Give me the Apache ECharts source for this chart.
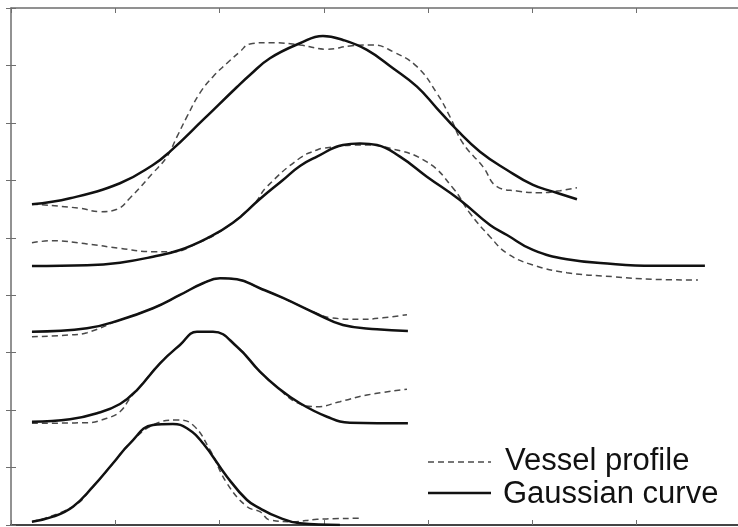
<!DOCTYPE html>
<html>
<head>
<meta charset="utf-8">
<script src="https://cdn.jsdelivr.net/npm/echarts@6/dist/echarts.min.js"></script>
<style>html,body{margin:0;padding:0;background:#fff}#c{width:738px;height:527px}</style>
</head>
<body>
<div id="c"></div>
<script>
// x ticks 0..70 step 10, y ticks 0..90 step 10 (tick labels hidden in the original)
const xTicks = [0, 10, 20, 30, 40, 50, 60, 70];
const yTicks = [0, 10, 20, 30, 40, 50, 60, 70, 80, 90];
const seriesNames = ['Vessel profile', 'Gaussian curve'];

const vessel1 = [[2.01,55.88],[6.62,55.14],[8.53,54.54],[10.16,54.96],[11.41,56.93],[13.61,61.28],[14.96,64.12],[15.92,67.6],[16.87,71.08],[18.12,75.21],[19.37,78.05],[20.71,80.38],[21.96,82.4],[22.91,83.74],[24.83,83.97],[27.71,83.57],[30.3,82.82],[32.5,83.39],[34.71,83.57],[36.63,82.4],[38.93,79.79],[40.84,75.16],[42.09,71.08],[43.34,66.45],[45.25,62.38],[46.6,58.9],[48.51,58.15],[50.72,57.85],[52.64,58.2],[54.27,58.72]];
const gauss1 = [[2.01,55.83],[5.66,56.88],[10.45,59.49],[13.61,62.67],[15.24,64.99],[18.41,70.51],[21.67,76.25],[22.91,78.34],[24.83,81.25],[27.71,83.86],[29.91,85.13],[31.83,84.44],[34.13,82.7],[36.63,79.51],[38.93,76.31],[40.84,72.54],[42.76,68.77],[44.97,64.99],[47.56,61.8],[50.05,59.19],[51.97,58.03],[54.27,56.7]];

const vessel2 = [[2.01,49.15],[4.03,49.49],[7.29,48.92],[10.45,48.17],[13.61,47.58],[15.53,47.58],[17.83,49.04],[20.04,51.06],[23.2,55.71],[24.54,58.9],[27.71,63.89],[29.34,65.29],[29.91,65.58],[33.46,66.16],[36.34,65.58],[39.88,63.2],[42.38,58.67],[44.01,54.27],[45.93,50.19],[47.56,47.3],[50.05,45.26],[53.31,43.92],[57.72,43.23],[61.55,42.77],[65.87,42.65]];
const gauss2 = [[2.01,45.09],[7.29,45.21],[10.45,45.67],[13.61,46.71],[16.2,47.88],[18.79,49.91],[21.28,52.6],[23.87,56.75],[26.08,60.06],[27.71,62.5],[29.34,64.12],[31.83,66.16],[33.46,66.42],[35.09,66.16],[37.3,64.12],[39.88,60.64],[43.05,56.58],[45.93,52.23],[47.56,50.49],[50.05,47.88],[53.31,46.26],[57.72,45.44],[61.55,45.14],[66.54,45.14]];

const vessel3 = [[2.01,32.78],[5.66,33.08],[7.29,33.48],[10.45,35.69],[13.61,37.73],[16.2,40.04],[18.41,42.08],[20.04,42.95],[21.67,42.77],[23.87,41.21],[26.08,39.52],[29.34,36.82],[30.59,36.09],[33.46,35.81],[35.67,36.06],[37.97,36.61]];
const gauss3 = [[2.01,33.65],[7.29,34.24],[10.45,35.69],[13.61,37.73],[16.2,40.04],[18.41,42.08],[20.04,42.95],[21.67,42.77],[23.87,41.21],[26.08,39.52],[29.34,36.73],[31.83,34.82],[35.09,34.07],[38.06,33.77]];

const vessel4 = [[2.01,17.71],[7.29,17.81],[9.2,18.58],[10.45,19.72],[11.41,22.06],[12.08,23.5],[14.29,28.15],[16.2,31.34],[17.83,33.65],[19.37,33.65],[21.67,31.04],[23.87,26.69],[25.5,24.03],[27.42,21.29],[29.34,20.6],[31.54,21.47],[34.13,22.63],[37.97,23.62]];
const gauss4 = [[2.01,17.98],[5.66,18.4],[8.25,19.45],[10.45,21.07],[12.08,23.5],[14.29,28.15],[16.2,31.34],[17.83,33.65],[19.37,33.65],[21.67,31.04],[23.87,26.69],[25.5,24.03],[27.71,21.19],[30.3,18.85],[32.5,17.81],[38.06,17.71]];

const vessel5 = [[2.01,0.57],[5.94,3.19],[7.86,6.67],[9.78,10.74],[11.41,14.22],[13.61,17.41],[15.92,18.28],[17.45,17.41],[19.08,13.06],[20.71,7.26],[22.63,3.19],[23.87,2.32],[24.83,0.87],[27.04,0.57],[29.34,0.99],[33.65,1.17]];
const gauss5 = [[2.01,0.57],[4.03,1.45],[5.94,3.19],[7.86,6.67],[9.78,10.74],[11.41,14.22],[13.61,17.41],[15.53,17.58],[16.87,16.83],[18.41,14.22],[20.71,8.41],[22.63,4.35],[23.87,2.91],[25.5,1.45],[27.71,0.3],[31.54,0]];

const vesselSets = [vessel1, vessel2, vessel3, vessel4, vessel5];
const gaussSets = [gauss1, gauss2, gauss3, gauss4, gauss5];

const axisCommon = {
  type: 'value',
  axisLine: { show: true, onZero: false, lineStyle: { color: '#6e6e6e', width: 1.5 } },
  axisTick: { show: true, inside: true, length: 5, lineStyle: { color: '#6e6e6e', width: 1 } },
  axisLabel: { show: false },
  splitLine: { show: false }
};

const series = [];
vesselSets.forEach(d => series.push({
  name: seriesNames[0], type: 'line', data: d, smooth: 0.45, symbol: 'none',
  xAxisIndex: 0, yAxisIndex: 0, z: 2,
  lineStyle: { color: '#4a4a4a', width: 1.5, type: [6, 4] }
}));
gaussSets.forEach(d => series.push({
  name: seriesNames[1], type: 'line', data: d, smooth: 0.45, symbol: 'none',
  xAxisIndex: 0, yAxisIndex: 0, z: 3,
  lineStyle: { color: '#111', width: 2.5, type: 'solid' }
}));

const legendFont = { fontFamily: 'Liberation Sans', fontSize: 31, fill: '#111' };

const chart = echarts.init(document.getElementById('c'));
chart.setOption({
  animation: false,
  backgroundColor: '#fff',
  grid: { left: 11, right: -3, top: 8, bottom: 2, outerBoundsMode: 'none', containLabel: false },
  xAxis: [
    Object.assign({}, axisCommon, { position: 'bottom', min: xTicks[0], max: xTicks[xTicks.length - 1], interval: 10,
      axisLine: { show: true, onZero: false, lineStyle: { color: '#444', width: 2 } } }),
    Object.assign({}, axisCommon, { position: 'top', min: xTicks[0], max: xTicks[xTicks.length - 1], interval: 10 })
  ],
  yAxis: [
    Object.assign({}, axisCommon, { position: 'left', min: yTicks[0], max: yTicks[yTicks.length - 1], interval: 10 }),
    Object.assign({}, axisCommon, { position: 'right', min: yTicks[0], max: yTicks[yTicks.length - 1], interval: 10,
      axisLine: { show: false } })
  ],
  graphic: [
    { type: 'line', shape: { x1: 428, y1: 462, x2: 491, y2: 462 }, style: { stroke: '#4a4a4a', lineWidth: 1.5, lineDash: [6, 4] } },
    { type: 'text', x: 505, y: 461, style: Object.assign({ text: seriesNames[0], verticalAlign: 'middle' }, legendFont) },
    { type: 'line', shape: { x1: 428, y1: 493, x2: 491, y2: 493 }, style: { stroke: '#111', lineWidth: 2.5 } },
    { type: 'text', x: 503, y: 494, style: Object.assign({ text: seriesNames[1], verticalAlign: 'middle' }, legendFont) }
  ],
  series: series
});
</script>
</body>
</html>
